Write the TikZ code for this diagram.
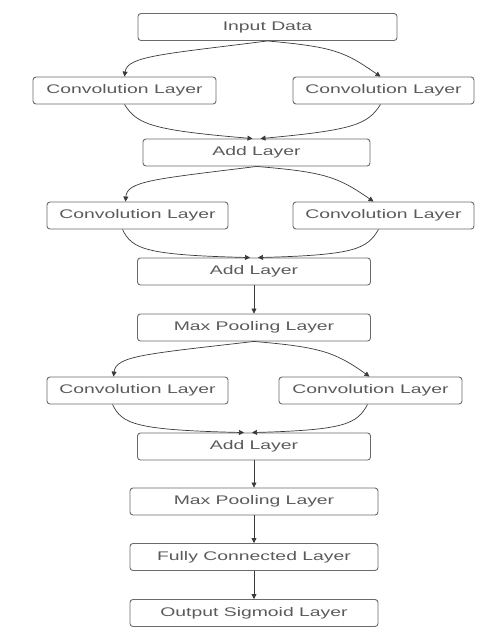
\documentclass[tikz,border=0pt]{standalone}
\usepackage{fontspec}
\setmainfont{Liberation Sans}[FakeStretch=1.55]
\usetikzlibrary{arrows.meta}
\definecolor{boxline}{HTML}{6A6A6A}
\definecolor{txt}{HTML}{5A5A5A}
\definecolor{edge}{HTML}{3A3A3A}
\begin{document}
\begin{tikzpicture}[x=1pt,y=-1pt,
  layer/.style={draw=boxline,line width=0.9pt,rounded corners=3pt,inner sep=0pt,
    minimum height=27pt,text=txt,font=\fontsize{12.5}{14}\selectfont},
  wide/.style={layer,minimum width=233pt},
  conv/.style={layer,minimum width=182pt},
  arr/.style={draw=edge,line width=0.7pt,-{Triangle[length=5pt,width=5pt]}}]
\useasboundingbox (0,0) rectangle (502,638);
\node[layer,minimum width=259pt] (in) at (267.5,27) {Input Data};
\node[conv,minimum width=183pt] (c1l) at (124.5,90.5) {Convolution Layer};
\node[conv,minimum width=181pt] (c1r) at (383.5,90.5) {Convolution Layer};
\node[layer,minimum width=227pt] (a1) at (256.5,152.5) {Add Layer};
\node[conv,minimum width=181pt] (c2l) at (137.5,215.5) {Convolution Layer};
\node[conv,minimum width=181pt] (c2r) at (383.5,215.5) {Convolution Layer};
\node[wide] (a2) at (254,271.5) {Add Layer};
\node[wide] (m1) at (254,327.5) {Max Pooling Layer};
\node[conv,minimum width=181pt] (c3l) at (137.5,390.5) {Convolution Layer};
\node[conv,minimum width=183pt] (c3r) at (370.5,390.5) {Convolution Layer};
\node[wide] (a3) at (254,446.5) {Add Layer};
\node[layer,minimum width=248pt] (m2) at (254,501.5) {Max Pooling Layer};
\node[layer,minimum width=248pt] (fc) at (254,557) {Fully Connected Layer};
\node[layer,minimum width=248pt] (out) at (254,613) {Output Sigmoid Layer};
% block 1
\draw[arr] (in.south) .. controls (165,54) and (127,56) .. (c1l.north);
\draw[arr] (in.south) .. controls (335,47) and (345,52) .. ([xshift=-3pt]c1r.north);
\draw[arr] (c1l.south) .. controls (137,124) and (150,130) .. ([xshift=-4pt]a1.north);
\draw[arr] ([xshift=-3pt]c1r.south) .. controls (368,124) and (355,130) .. ([xshift=4pt]a1.north);
% block 2
\draw[arr] (a1.south) .. controls (155,179) and (127,181) .. ([xshift=-12pt]c2l.north);
\draw[arr] (a1.south) .. controls (325,172) and (338,177) .. ([xshift=-10pt]c2r.north);
\draw[arr] ([xshift=-15pt]c2l.south) .. controls (132,249) and (145,255) .. ([xshift=-4pt]a2.north);
\draw[arr] ([xshift=-5pt]c2r.south) .. controls (367,249) and (355,255) .. ([xshift=4pt]a2.north);
\draw[arr] (a2) -- (m1);
% block 3
\draw[arr] (m1.south) .. controls (145,354) and (116,356) .. ([xshift=-24pt]c3l.north);
\draw[arr] (m1.south) .. controls (320,347) and (335,352) .. ([xshift=-1pt]c3r.north);
\draw[arr] ([xshift=-25pt]c3l.south) .. controls (122,424) and (135,430) .. ([xshift=-10pt]a3.north);
\draw[arr] ([xshift=-3pt]c3r.south) .. controls (357,424) and (345,430) .. ([xshift=-2pt]a3.north);
\draw[arr] (a3) -- (m2);
\draw[arr] (m2) -- (fc);
\draw[arr] (fc) -- (out);
\end{tikzpicture}
\end{document}
